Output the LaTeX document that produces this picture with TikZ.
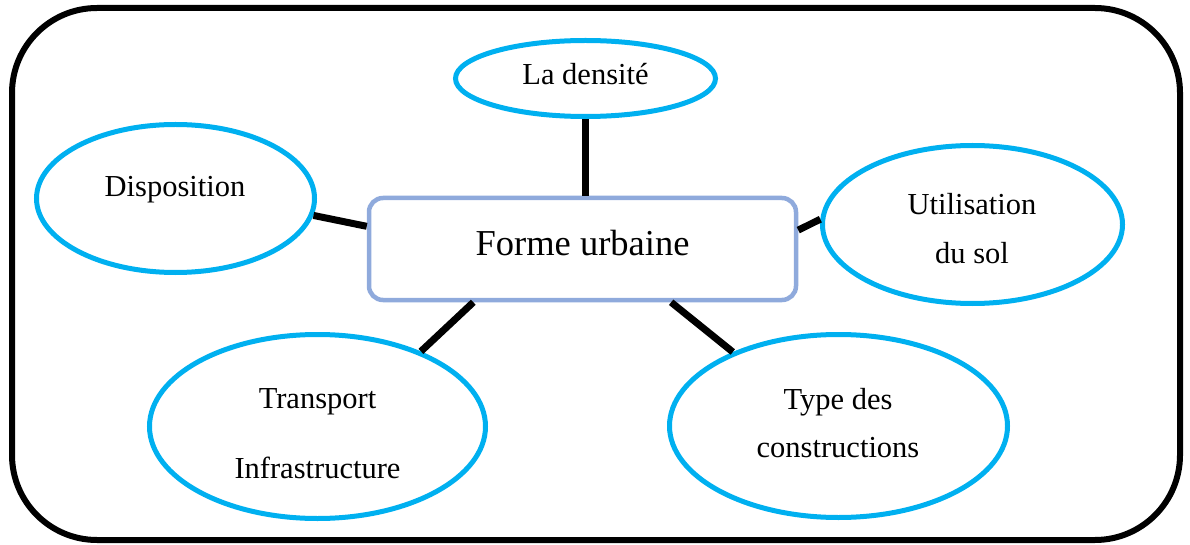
\documentclass[tikz,border=0pt]{standalone}
\usepackage{fontspec}
\setmainfont{Liberation Serif}
\usetikzlibrary{shapes.geometric}
\definecolor{bubblec}{HTML}{00B0F0}
\definecolor{corec}{HTML}{8FAADC}
\begin{document}
\begin{tikzpicture}[x=1pt,y=-1pt,
  bubble/.style={ellipse, draw=bubblec, line width=5pt, inner sep=0pt},
  corebox/.style={rectangle, rounded corners=14pt, draw=corec, line width=4.5pt, inner sep=0pt, minimum width=427pt, minimum height=102pt},
  link/.style={line width=7pt, black},
  lbl/.style={anchor=base, align=center, inner sep=0pt, font=\fontsize{30.5}{48}\selectfont},
  frame/.style={draw=black, line width=6pt, rounded corners=85pt}]
\useasboundingbox (0,0) rectangle (1190,545);
\draw[frame] (12,8) rectangle (1180,540);

\node[corebox] (fu) at (582.5,249) {};
\node[bubble, minimum width=260pt, minimum height=76pt] (dens) at (585.5,78.5) {};
\node[bubble, minimum width=278pt, minimum height=148pt] (disp) at (175.5,198.5) {};
\node[bubble, minimum width=300pt, minimum height=158pt] (util) at (972.5,224.5) {};
\node[bubble, minimum width=336pt, minimum height=184pt] (trans) at (317.5,426.5) {};
\node[bubble, minimum width=338pt, minimum height=183pt] (type) at (838.5,426) {};

\draw[link] (dens.south) -- (dens.south |- fu.north);
\draw[link] (disp.-7.1) -- (fu.174.7);
\draw[link] (util.178.2) -- (fu.5.3);
\draw[link] (trans.36.8) -- (fu.206);
\draw[link] (type.145) -- (fu.-31.7);

\node[lbl, font=\fontsize{36.5}{44}\selectfont] (fut) at (582.5,255) {Forme urbaine};
\node[lbl] (denst) at (585.5,85) {La densité};
\node[lbl] (dispt) at (175,197) {Disposition};
\node[lbl] (utilt) at (972,263) {Utilisation\\du sol};
\node[lbl, font=\fontsize{30.5}{70}\selectfont] (transt) at (317.5,478) {Transport\\Infrastructure};
\node[lbl] (typet) at (838,457) {Type des\\constructions};
\end{tikzpicture}
\end{document}
